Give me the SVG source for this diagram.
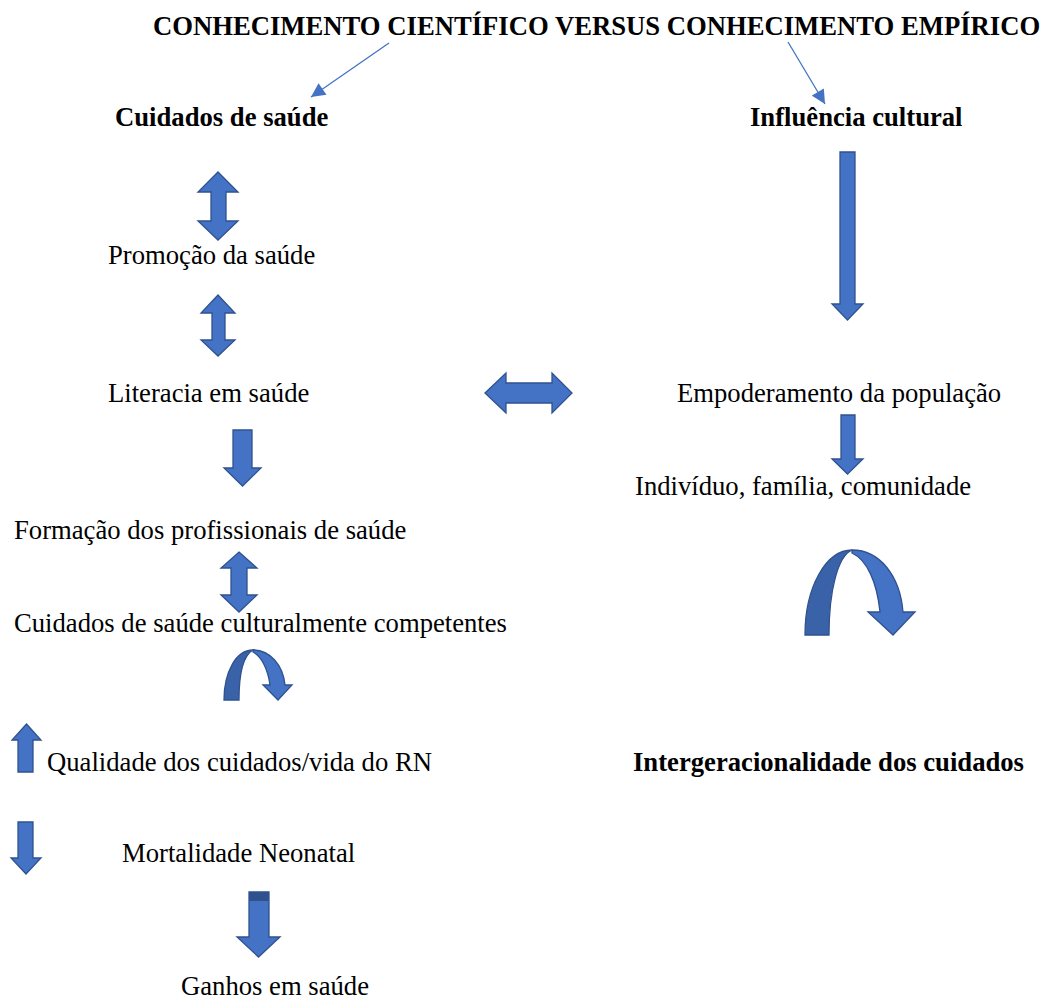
<svg xmlns="http://www.w3.org/2000/svg" width="1044" height="1002" viewBox="0 0 1044 1002">
  <defs>
    <style>
      text { font-family: "Liberation Serif", "Times New Roman", serif; font-size: 26.67px; fill: #000; }
      .b { font-weight: bold; }
      .blk { fill: #4472C4; stroke: #2F528F; stroke-width: 1.3; stroke-linejoin: miter; }
      .shade { fill: #3A62A8; stroke: #2F528F; stroke-width: 1.3; }
      .band { fill: #2F528F; }
      .conn { stroke: #4472C4; stroke-width: 1.3; fill: none; }
    </style>
    <marker id="tri" viewBox="0 0 10 10" refX="10" refY="5" markerWidth="16" markerHeight="14" markerUnits="userSpaceOnUse" orient="auto">
      <path d="M0,0 L10,5 L0,10 Z" fill="#4472C4"/>
    </marker>
  </defs>

  <rect width="1044" height="1002" fill="#fff"/>

  <!-- title and column headings -->
  <g id="title"><text class="b" x="153" y="35">CONHECIMENTO CIENTÍFICO VERSUS CONHECIMENTO EMPÍRICO</text></g>

  <g id="connectors">
    <line class="conn" x1="389" y1="43" x2="311" y2="97" marker-end="url(#tri)"/>
    <line class="conn" x1="788" y1="42" x2="825" y2="104" marker-end="url(#tri)"/>
  </g>

  <g id="cuidados"><text class="b" x="115" y="126">Cuidados de saúde</text></g>
  <g id="influencia"><text class="b" x="750" y="126">Influência cultural</text></g>

  <!-- left column -->
  <g id="arrow-ud-1"><path class="blk" d="M218,172 L238,192 L226,192 L226,221 L238,221 L218,240 L198,221 L211,221 L211,192 L198,192 Z"/></g>
  <g id="promocao"><text x="108" y="264">Promoção da saúde</text></g>
  <g id="arrow-ud-2"><path class="blk" d="M218,295 L235,313 L225,313 L225,340 L235,340 L218,356 L201,340 L212,340 L212,313 L201,313 Z"/></g>
  <g id="literacia"><text x="108" y="402">Literacia em saúde</text></g>
  <g id="arrow-lr"><path class="blk" d="M485,393 L506,373 L506,383 L552,383 L552,373 L572,393 L552,413 L552,403 L506,403 L506,413 Z"/></g>
  <g id="arrow-down-1"><path class="blk" d="M233,430 L252,430 L252,468 L261,468 L242.5,486 L224,468 L233,468 Z"/></g>
  <g id="formacao"><text x="14" y="539">Formação dos profissionais de saúde</text></g>
  <g id="arrow-ud-3"><path class="blk" d="M239,552 L257,568 L247,568 L247,595 L257,595 L239,612 L221,595 L231,595 L231,568 L221,568 Z"/></g>
  <g id="competentes"><text x="14" y="632">Cuidados de saúde culturalmente competentes</text></g>
  <g id="arrow-curve-small">
    <path class="shade" d="M224,700 C224,672 236,650 253,650 C244,655 239,673 239,700 Z"/>
    <path class="blk" d="M253,650 C270,650 283,665 285,685 L292,685 L278,700 L263,685 L270,685 C268,670 262,657 253,652 Z"/>
  </g>
  <g id="arrow-up-small"><path class="blk" d="M26.5,724 L41,740 L33,740 L33,772 L18,772 L18,740 L12,740 Z"/></g>
  <g id="qualidade"><text x="47" y="771">Qualidade dos cuidados/vida do RN</text></g>
  <g id="arrow-down-small"><path class="blk" d="M18,822 L33,822 L33,858 L41,858 L26,874 L11,858 L18,858 Z"/></g>
  <g id="mortalidade"><text x="122" y="862">Mortalidade Neonatal</text></g>
  <g id="arrow-down-2">
    <path class="blk" d="M249,892 L269,892 L269,937 L280,937 L258.5,957 L237,937 L249,937 Z"/>
    <rect class="band" x="249" y="892" width="20" height="9"/>
  </g>
  <g id="ganhos"><text x="181" y="995">Ganhos em saúde</text></g>

  <!-- right column -->
  <g id="arrow-down-long"><path class="blk" d="M840,152 L855,152 L855,304 L863,304 L847.5,320 L832,304 L840,304 Z"/></g>
  <g id="empoderamento"><text x="677" y="402">Empoderamento da população</text></g>
  <g id="arrow-down-3"><path class="blk" d="M841,415 L855,415 L855,459 L863,459 L847.5,474 L832,459 L841,459 Z"/></g>
  <g id="individuo"><text x="635" y="495">Indivíduo, família, comunidade</text></g>
  <g id="arrow-curve-large">
    <path class="shade" d="M805,635 C805,587 826,550 852,550 C838,556 829,590 829,635 Z"/>
    <path class="blk" d="M852,550 C880,550 900,576 903,612 L915,612 L893,635 L868,612 L880,612 C877,582 867,560 852,553 Z"/>
  </g>
  <g id="intergeracionalidade"><text class="b" x="633" y="771">Intergeracionalidade dos cuidados</text></g>
</svg>
